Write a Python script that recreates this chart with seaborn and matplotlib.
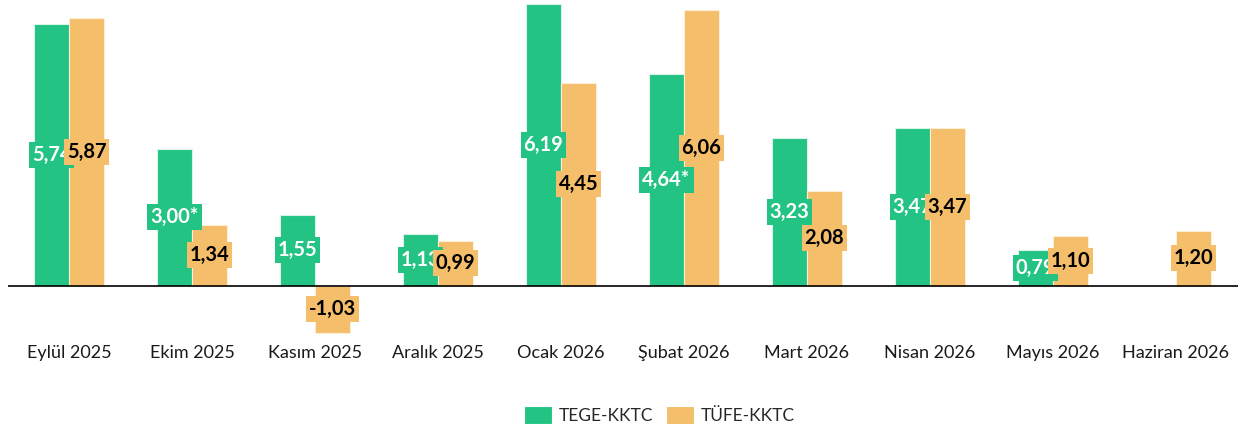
import numpy as np
import pandas as pd
import matplotlib
matplotlib.use("Agg")
import matplotlib.pyplot as plt
import seaborn as sns

months = ["Eylül 2025", "Ekim 2025", "Kasım 2025", "Aralık 2025", "Ocak 2026",
          "Şubat 2026", "Mart 2026", "Nisan 2026", "Mayıs 2026", "Haziran 2026"]
tege = [5.74, 3.00, 1.55, 1.13, 6.19, 4.64, 3.23, 3.47, 0.79, np.nan]
tufe = [5.87, 1.34, -1.03, 0.99, 4.45, 6.06, 2.08, 3.47, 1.10, 1.20]
tege_labels = ["5,74", "3,00*", "1,55", "1,13", "6,19", "4,64*", "3,23", "3,47", "0,79", ""]
tufe_labels = ["5,87", "1,34", "-1,03", "0,99", "4,45", "6,06", "2,08", "3,47", "1,10", "1,20"]
series = ["TEGE-KKTC", "TÜFE-KKTC"]

GREEN = "#22C383"
ORANGE = "#F4BE6A"

df = pd.DataFrame({
    "ay": months * 2,
    "seri": [series[0]] * len(months) + [series[1]] * len(months),
    "deger": tege + tufe,
})

sns.set_style("white")
plt.rcParams["font.family"] = ["Lato", "DejaVu Sans"]

fig = plt.figure(figsize=(12.45, 4.33), dpi=100)
ax = fig.add_axes([7.5 / 1245, 1 - 338 / 433, 1230 / 1245, 338 / 433])

sns.barplot(data=df, x="ay", y="deger", hue="seri", order=months,
            hue_order=series, palette=[GREEN, ORANGE], width=0.57,
            saturation=1, ax=ax, linewidth=0.8)

# bar kenarları hafif açık renkli
for cont, ec in zip(ax.containers, ["#d8f3e8", "#fdeed6"]):
    for bar in cont:
        bar.set_edgecolor(ec)
        bar.set_zorder(2)

# değer etiketleri (çubuk ortasında, arka planı çubuk renginde)
for cont, labels, fc, tc, z in zip(ax.containers, [tege_labels, tufe_labels],
                                  [GREEN, ORANGE], ["white", "black"], [4, 5]):
    for bar, lab in zip(cont, labels):
        h = bar.get_height()
        if not lab or np.isnan(h):
            continue
        x = bar.get_x() + bar.get_width() / 2
        ax.text(x, h / 2, lab, ha="center", va="center", fontsize=14.5,
                fontweight="bold", color=tc, zorder=z,
                bbox=dict(boxstyle="square,pad=0.15", fc=fc, ec="none"))

ax.axhline(0, color="black", lw=1.2, zorder=3)
ax.set_xlim(-0.5, len(months) - 0.5)
ax.set_ylim(-1.15, 6.27)
ax.set_xlabel("")
ax.set_ylabel("")
ax.set_yticks([])
ax.tick_params(axis="x", length=0, pad=5, labelsize=13, labelcolor="#1a1a1a")
sns.despine(ax=ax, left=True, bottom=True)

ax.legend(loc="center", bbox_to_anchor=(0.530, -0.228), ncol=2, frameon=False,
          fontsize=12.5, handlelength=1.6, handleheight=1.2, handletextpad=0.4,
          columnspacing=0.75)

fig.savefig("out.png", dpi=100)
